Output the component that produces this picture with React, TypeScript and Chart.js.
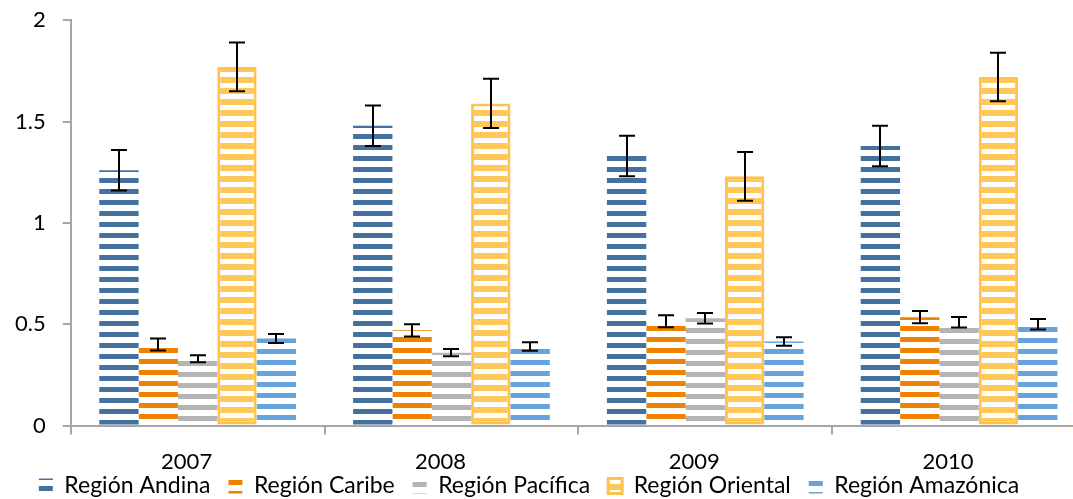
import React, { useEffect, useRef } from "react";
import { Chart, registerables } from "chart.js";

Chart.register(...registerables);

const categories = ["2007", "2008", "2009", "2010"];
const seriesNames = ["Región Andina", "Región Caribe", "Región Pacífica", "Región Oriental", "Región Amazónica"];

const andina = [1.26, 1.48, 1.33, 1.38];
const caribe = [0.4, 0.47, 0.515, 0.535];
const pacifica = [0.33, 0.36, 0.53, 0.51];
const oriental = [1.77, 1.59, 1.23, 1.72];
const amazonica = [0.43, 0.39, 0.415, 0.5];

const andinaErr = [0.1, 0.1, 0.1, 0.1];
const caribeErr = [0.03, 0.03, 0.03, 0.03];
const pacificaErr = [0.017, 0.018, 0.026, 0.026];
const orientalErr = [0.12, 0.122, 0.12, 0.12];
const amazonicaErr = [0.022, 0.021, 0.021, 0.026];

const yTickValues = [0, 0.5, 1, 1.5, 2];

const FONT = "Lato";
const LEGEND_SIZE = 23;
const LEGEND_PAD = 18;

function makeStripes(color: string, phase: number, thick: number) {
  const period = 11;
  const c = document.createElement("canvas");
  c.width = 4;
  c.height = period;
  const g = c.getContext("2d")!;
  g.fillStyle = "#ffffff";
  g.fillRect(0, 0, 4, period);
  g.fillStyle = color;
  for (let k = -1; k <= 1; k++) {
    g.fillRect(0, phase + k * period, 4, thick);
  }
  return g.createPattern(c, "repeat")!;
}

export default function App() {
  const ref = useRef<HTMLCanvasElement | null>(null);

  useEffect(() => {
    const canvas = ref.current!;
    const values = [andina, caribe, pacifica, oriental, amazonica];
    const errs = [andinaErr, caribeErr, pacificaErr, orientalErr, amazonicaErr];
    const fills = [
      makeStripes("#44719f", 2, 5),
      makeStripes("#ef8200", 7, 5),
      makeStripes("#b4b4b4", 9, 5),
      makeStripes("#ffc658", 0, 6),
      makeStripes("#66a2dc", 8, 5),
    ];

    const errorBars = {
      id: "errorBars",
      afterDatasetsDraw(chart: any) {
        const ctx = chart.ctx;
        const yScale = chart.scales.y;
        ctx.save();
        ctx.strokeStyle = "#000000";
        ctx.lineWidth = 2;
        values.forEach((vals, i) => {
          const meta = chart.getDatasetMeta(i);
          meta.data.forEach((bar: any, j: number) => {
            const x = Math.round(bar.x);
            const yT = yScale.getPixelForValue(vals[j] + errs[i][j]);
            const yB = yScale.getPixelForValue(vals[j] - errs[i][j]);
            ctx.beginPath();
            ctx.moveTo(x, yT);
            ctx.lineTo(x, yB);
            ctx.moveTo(x - 8, yT);
            ctx.lineTo(x + 8, yT);
            ctx.moveTo(x - 8, yB);
            ctx.lineTo(x + 8, yB);
            ctx.stroke();
          });
        });
        ctx.restore();
      },
    };

    const legendPlace = {
      id: "legendPlace",
      afterLayout(chart: any) {
        const lg = chart.legend;
        if (!lg) return;
        const h = lg.bottom - lg.top;
        const top = 486 - LEGEND_PAD - LEGEND_SIZE / 2;
        lg.top = top;
        lg.bottom = top + h;
        lg.left -= 13;
        lg.right -= 13;
      },
    };

    const chart = new Chart(canvas, {
      type: "bar",
      data: {
        labels: categories,
        datasets: values.map((v, i) => ({
          label: seriesNames[i],
          data: v,
          backgroundColor: fills[i],
          borderColor: i === 3 ? "#ffc24c" : "rgba(0,0,0,0)",
          borderWidth: i === 3 ? 3 : 0,
          borderSkipped: false,
          categoryPercentage: 0.775,
          barPercentage: 1,
        })),
      },
      options: {
        responsive: false,
        animation: false,
        devicePixelRatio: 1,
        layout: { padding: { left: -2, right: 4, top: 0, bottom: 0 } },
        plugins: {
          tooltip: { enabled: false },
          legend: {
            position: "bottom",
            labels: {
              font: { family: FONT, size: LEGEND_SIZE },
              color: "#000000",
              boxWidth: 14,
              boxHeight: 15,
              padding: LEGEND_PAD,
            },
          },
        },
        scales: {
          x: {
            grid: {
              drawOnChartArea: false,
              color: "#a6a6a6",
              tickLength: 9,
              lineWidth: 2,
            },
            border: { color: "#a6a6a6", width: 2 },
            ticks: {
              font: { family: FONT, size: 22 },
              color: "#000000",
              padding: 14,
              labelOffset: -11,
            },
          },
          y: {
            min: 0,
            max: 2,
            afterBuildTicks(scale: any) {
              scale.ticks = yTickValues.map((v) => ({ value: v }));
            },
            grid: {
              drawOnChartArea: false,
              color: "#a6a6a6",
              tickLength: 8,
              lineWidth: 2,
            },
            border: { color: "#a6a6a6", width: 2 },
            ticks: {
              font: { family: FONT, size: 22, lineHeight: 0.3 },
              color: "#000000",
              padding: 17,
              callback: (v: any) => String(v),
            },
          },
        },
      },
      plugins: [errorBars, legendPlace],
    });
    return () => chart.destroy();
  }, []);

  return (
    <div style={{ position: "absolute", left: 0, top: 0, width: 1073, height: 499, overflow: "hidden", background: "#ffffff" }}>
      <canvas ref={ref} width={1090} height={540} style={{ display: "block" }} />
    </div>
  );
}
